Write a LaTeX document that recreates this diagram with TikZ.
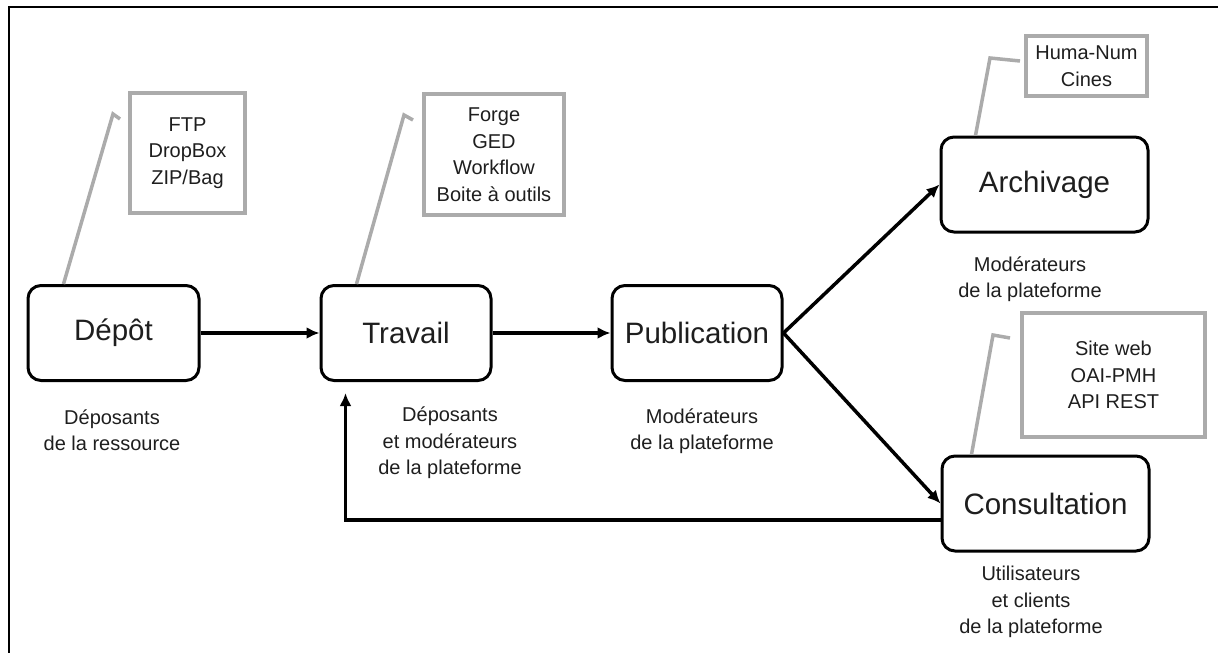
\documentclass[tikz,border=0pt]{standalone}
\usepackage{fontspec}
\setmainfont{Liberation Sans}
\usetikzlibrary{arrows.meta}
\definecolor{toolGray}{HTML}{ABABAB}
\definecolor{textGray}{HTML}{1E1E1E}

\begin{document}
\begin{tikzpicture}[x=1pt,y=-1pt]
	\useasboundingbox (0,0) rectangle (1218,653);
	\draw[line width=2.8pt] (9,653) -- (9,7) -- (1218,7);
		\begin{scope}
			[
				styleStep/.style={
					draw, line width=3pt, rounded corners=13pt,
					minimum width=#1, minimum height=95pt, inner sep=0pt,
					text=textGray, font=\fontsize{29.5}{35}\selectfont
					},
				styleRole/.style={align=center, text=textGray, font=\fontsize{20}{26.5}\selectfont},
				styleTool/.style={draw=toolGray, line width=3.5pt, inner sep=0pt,
					align=center, text=textGray, font=\fontsize{20}{26.5}\selectfont},
			]
			\node(depot)[styleStep=171pt] at (113.5,333) {Dépôt};
			\node(travail)[styleStep=170pt] at (406,333) {Travail};
			\node(publication)[styleStep=170pt] at (697,333) {Publication};
			\node(archivage)[styleStep=207pt] at (1044.5,184.5) {Archivage};
			\node(consultation)[styleStep=207pt] at (1045.5,503.5) {Consultation};

			\node(rDepot)[styleRole] at (112,430) {Déposants\\de la ressource};
			\node(rTravail)[styleRole] at (450,443) {Déposants\\et modérateurs\\de la plateforme};
			\node(rPublication)[styleRole] at (702,431) {Modérateurs\\de la plateforme};
			\node(rArchivage)[styleRole] at (1030,279) {Modérateurs\\de la plateforme};
			\node(rConsultation)[styleRole] at (1031,602) {Utilisateurs\\et clients\\de la plateforme};

			\node(tDepot)[styleTool, minimum width=115pt, minimum height=120pt] at (187.5,153) {FTP\\DropBox\\ZIP/Bag};
			\node(tTravail)[styleTool, minimum width=140pt, minimum height=121pt] at (494,154.5) {Forge\\GED\\Workflow\\Boite à outils};
			\node(tArchivage)[styleTool, minimum width=121pt, minimum height=60pt] at (1086.5,66) {Huma-Num\\Cines};
			\node(tConsultation)[styleTool, minimum width=183pt, minimum height=124pt] at (1113.5,375) {Site web\\OAI-PMH\\API REST};

			\coordinate (ftpBend) at (113,114);   \coordinate (ftpTip) at (120,119);
			\coordinate (forgeBend) at (404,115); \coordinate (forgeTip) at (413,120);
			\coordinate (humaBend) at (990,58);   \coordinate (humaTip) at (1020,61);
			\coordinate (siteBend) at (993,335);  \coordinate (siteTip) at (1010,338);
		\end{scope}

		\begin{scope}
			[ flow/.style = {line width=3.5pt, -{Latex[length=13pt,width=12pt]}},
				note/.style = {draw=toolGray, line width=3.5pt}]
			\path
			(depot.east) edge[flow]					(travail.west)
			(travail.east) edge[flow]				(publication.west)
			(publication.east) edge[flow]			(archivage.west)
			(publication.east) edge[flow]			(consultation.west);

			\draw[flow, shorten >=11pt] ([yshift=-16.5pt]consultation.west) -| ([xshift=26pt]travail.south west);

			\draw[note] ([xshift=37pt]depot.north west) -- (ftpBend) -- (ftpTip);
			\draw[note] ([xshift=37pt]travail.north west) -- (forgeBend) -- (forgeTip);
			\draw[note] ([xshift=36pt]archivage.north west) -- (humaBend) -- (humaTip);
			\draw[note] ([xshift=31pt]consultation.north west) -- (siteBend) -- (siteTip);
		\end{scope}
	\end{tikzpicture}
\end{document}
